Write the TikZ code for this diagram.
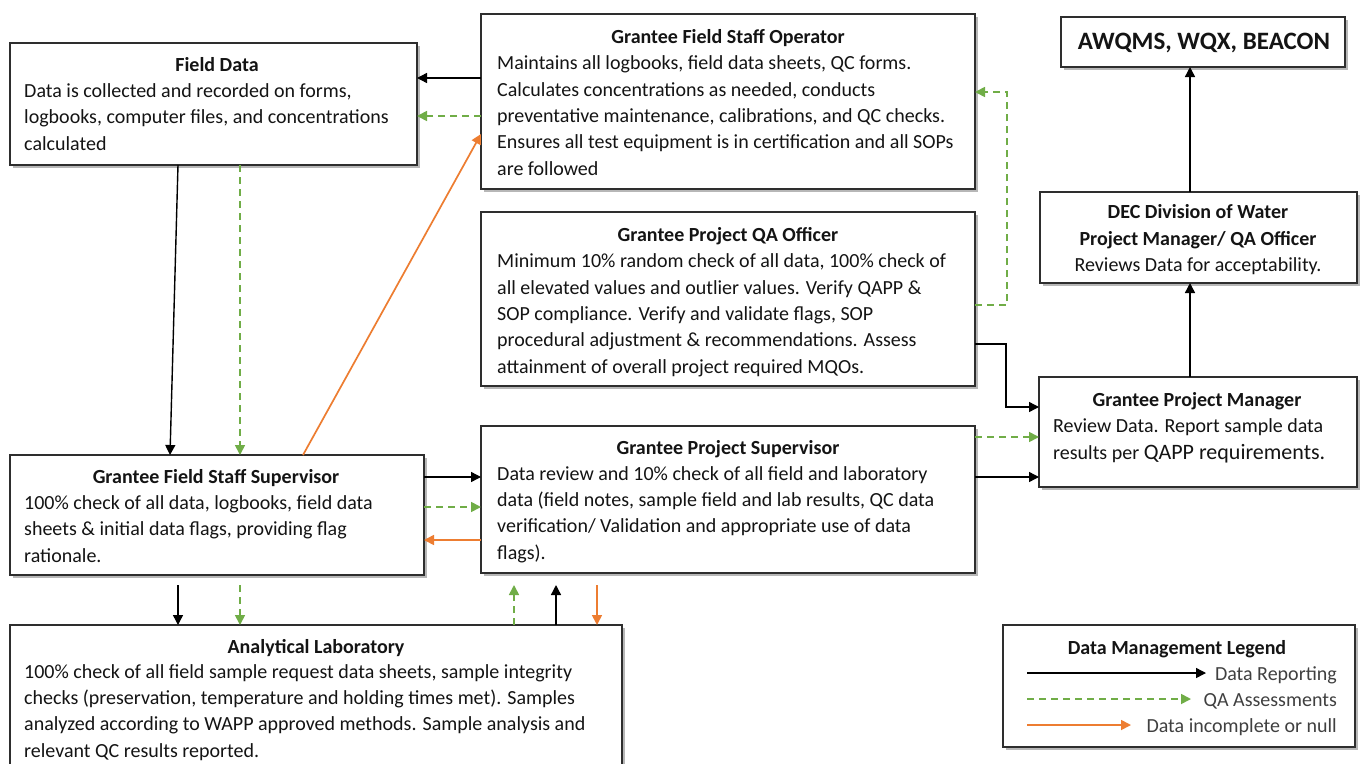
\documentclass[tikz,border=0pt]{standalone}
\usepackage{fontspec}
\setmainfont{Carlito}
\usetikzlibrary{arrows.meta,shadows,calc}
\definecolor{qagreen}{HTML}{70AD47}
\definecolor{nullorange}{HTML}{ED7D31}
\definecolor{boxline}{HTML}{2E2E2E}
\definecolor{txt}{HTML}{141414}
\tikzset{
  box/.style={draw=boxline, line width=1.5pt, fill=white, anchor=north west, inner sep=0pt, outer sep=0pt,
    drop shadow={shadow xshift=2.5pt, shadow yshift=-2.5pt, fill=black!40, opacity=0.7}},
  ttl/.style={font=\fontsize{20}{26.3}\selectfont\bfseries, text=txt, anchor=base, inner sep=0pt},
  body/.style={font=\fontsize{20}{26.3}\selectfont, text=txt, align=left, anchor=base west, inner sep=0pt},
  tip/.style={-{Triangle[length=10pt,width=10pt]}},
  rep/.style={tip, draw=black, line width=1.4pt},
  qa/.style={-{Triangle[length=10pt,width=10pt]}, draw=qagreen, line width=1.7pt, dash pattern=on 7pt off 5pt, color=qagreen},
  nul/.style={-{Triangle[length=10pt,width=10pt]}, draw=nullorange, line width=1.7pt, color=nullorange},
}
\begin{document}
\begin{tikzpicture}[x=1pt,y=-1pt]
\useasboundingbox (0,0) rectangle (1360,763);
\fill[white] (0,0) rectangle (1360,763);
% boxes
\node[box, minimum width=407pt, minimum height=122pt] (fd) at (10,43) {};
\node[box, minimum width=494pt, minimum height=175pt] (op) at (481,14) {};
\node[box, minimum width=284pt, minimum height=50pt] (aw) at (1061,17) {};
\node[box, minimum width=494pt, minimum height=174pt] (qa) at (481,212) {};
\node[box, minimum width=317pt, minimum height=91pt] (dec) at (1040,192) {};
\node[box, minimum width=318pt, minimum height=110pt] (pm) at (1039,377) {};
\node[box, minimum width=414pt, minimum height=120pt] (fss) at (10,455) {};
\node[box, minimum width=494pt, minimum height=147pt] (ps) at (481,426) {};
\node[box, minimum width=612pt, minimum height=170pt] (lab) at (10,625) {};
\node[box, minimum width=352pt, minimum height=122pt] (leg) at (1003,625) {};
% texts (body anchor = baseline of last line)
\node[ttl] (fdT) at (217,71) {Field Data};
\node[body] (fdB) at (24,150) {Data is collected and recorded on forms,\\logbooks, computer files, and concentrations\\calculated};
\node[ttl] (opT) at (728,43) {Grantee Field Staff Operator};
\node[body] (opB) at (497,175) {Maintains all logbooks, field data sheets, QC forms.\\Calculates concentrations as needed, conducts\\preventative maintenance, calibrations, and QC checks.\\Ensures all test equipment is in certification and all SOPs\\are followed};
\node[ttl, font=\fontsize{25}{30}\selectfont\bfseries] (awT) at (1204,49) {AWQMS, WQX, BEACON};
\node[ttl] (qaT) at (728,241) {Grantee Project QA Officer};
\node[body] (qaB) at (497,373) {Minimum 10\% random check of all data, 100\% check of\\all elevated values and outlier values. Verify QAPP \&\\SOP compliance. Verify and validate flags, SOP\\procedural adjustment \& recommendations. Assess\\attainment of overall project required MQOs.};
\node[ttl] (decT1) at (1198,218) {DEC Division of Water};
\node[ttl] (decT2) at (1198,245) {Project Manager/ QA Officer};
\node[ttl, font=\fontsize{20}{26.3}\selectfont] (decB) at (1198,271) {Reviews Data for acceptability.};
\node[ttl] (pmT) at (1197,406) {Grantee Project Manager};
\node[body] (pmB) at (1053,459) {Review Data. Report sample data\\results per {\fontsize{22}{26.3}\selectfont QAPP requirements.}};
\node[ttl] (fssT) at (216,483) {Grantee Field Staff Supervisor};
\node[body] (fssB) at (24,562) {100\% check of all data, logbooks, field data\\sheets \& initial data flags, providing flag\\rationale.};
\node[ttl] (psT) at (728,454) {Grantee Project Supervisor};
\node[body] (psB) at (497,559) {Data review and 10\% check of all field and laboratory\\data (field notes, sample field and lab results, QC data\\verification/ Validation and appropriate use of data\\flags).};
\node[ttl] (labT) at (316,653) {Analytical Laboratory};
\node[body] (labB) at (24,757) {100\% check of all field sample request data sheets, sample integrity\\checks (preservation, temperature and holding times met). Samples\\analyzed according to WAPP approved methods. Sample analysis and\\relevant QC results reported.};
% legend
\node[ttl] (legT) at (1177,654) {Data Management Legend};
\coordinate (l1a) at (1027,673); \coordinate (l1b) at (1206,673);
\coordinate (l2a) at (1027,699); \coordinate (l2b) at (1191,699);
\coordinate (l3a) at (1027,725); \coordinate (l3b) at (1131,725);
\draw[rep] (l1a) -- (l1b);
\draw[qa] (l2a) -- (l2b);
\draw[nul] (l3a) -- (l3b);
\node[body, anchor=base east, text=black!75] (leg1) at (1337,680) {Data Reporting};
\node[body, anchor=base east, text=black!75] (leg2) at (1337,706) {QA Assessments};
\node[body, anchor=base east, text=black!75] (leg3) at (1337,732) {Data incomplete or null};
% connectors
\draw[rep] (op.west |- 0,78) -- (fd.east |- 0,78);
\draw[qa] (op.west |- 0,116) -- (fd.east |- 0,116);
\draw[rep] (fd.south -| 178,0) -- (fss.north -| 170,0);
\draw[qa] (fd.south -| 240,0) -- (fss.north -| 240,0);
\draw[nul] (fss.north -| 303,0) -- (op.west |- 0,134);
\draw[rep] (fss.east |- 0,477) -- (ps.west |- 0,477);
\draw[qa] (fss.east |- 0,507) -- (ps.west |- 0,507);
\draw[nul] (ps.west |- 0,540) -- (fss.east |- 0,540);
\draw[rep] ($(fss.south -| 178,0)+(0,10)$) -- (lab.north -| 178,0);
\draw[qa] ($(fss.south -| 240,0)+(0,10)$) -- (lab.north -| 240,0);
\draw[qa] (lab.north -| 514,0) -- ($(ps.south -| 514,0)+(0,12)$);
\draw[rep] (lab.north -| 556,0) -- ($(ps.south -| 556,0)+(0,12)$);
\draw[nul] ($(ps.south -| 597,0)+(0,12)$) -- (lab.north -| 597,0);
\draw[qa] (qa.east |- 0,305) -- ++(32,0) |- (op.east |- 0,92);
\draw[rep] (qa.east |- 0,344) -- ++(31,0) |- (pm.west |- 0,407);
\draw[qa] (ps.east |- 0,437) -- (pm.west |- 0,437);
\draw[rep] (ps.east |- 0,477) -- (pm.west |- 0,477);
\draw[rep] (pm.north -| 1190,0) -- (dec.south -| 1190,0);
\draw[rep] (dec.north -| 1190,0) -- (aw.south -| 1190,0);
\end{tikzpicture}
\end{document}
